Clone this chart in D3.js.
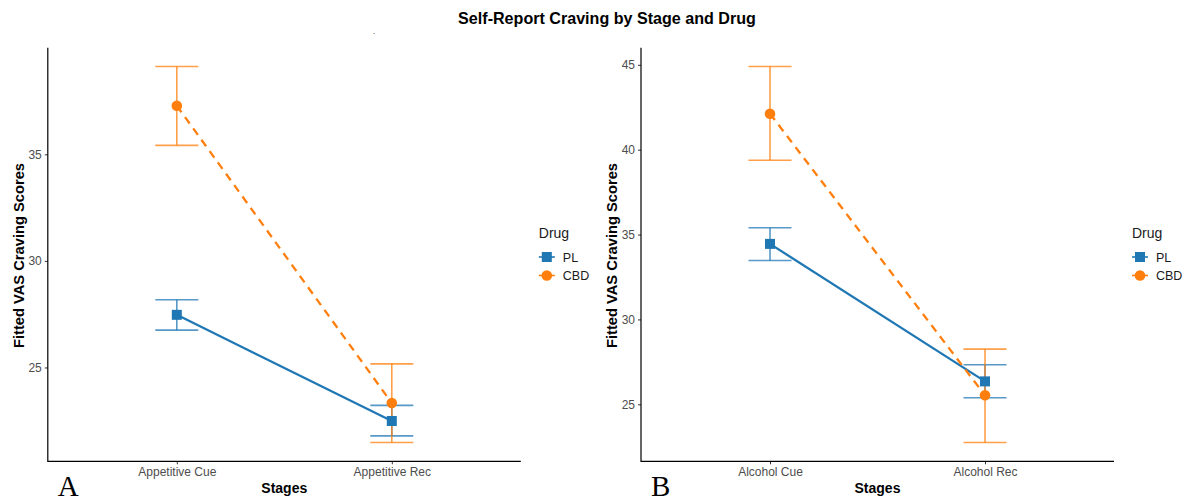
<!DOCTYPE html>
<html>
<head>
<meta charset="utf-8">
<script src="https://cdn.jsdelivr.net/npm/d3@7"></script>
<style>
  body { margin: 0; background: #fff; }
  svg { font-family: "Liberation Sans", Arial, sans-serif; }
</style>
</head>
<body>
<svg width="1189" height="501"></svg>
<script>
// values
const drugs = ["PL", "CBD"];
const stagesA = ["Appetitive Cue", "Appetitive Rec"];
const stagesB = ["Alcohol Cue", "Alcohol Rec"];

const meanA_PL = [27.47, 22.49];
const lowA_PL = [26.75, 21.79];
const highA_PL = [28.18, 23.22];
const meanA_CBD = [37.28, 23.33];
const lowA_CBD = [35.42, 21.48];
const highA_CBD = [39.12, 25.17];

const meanB_PL = [34.45, 26.35];
const lowB_PL = [33.47, 25.39];
const highB_PL = [35.40, 27.33];
const meanB_CBD = [42.12, 25.53];
const lowB_CBD = [39.38, 22.75];
const highB_CBD = [44.90, 28.25];

const ticksA = [25, 30, 35];
const ticksB = [25, 30, 35, 40, 45];

const colors = { PL: "#1f77b4", CBD: "#ff7f0e" };

const svg = d3.select("svg");

svg.append("text")
  .attr("x", 607).attr("y", 24)
  .attr("text-anchor", "middle")
  .attr("font-size", 16.1).attr("font-weight", "bold")
  .text("Self-Report Craving by Stage and Drug");

svg.append("text")
  .attr("x", 373).attr("y", 34)
  .attr("font-size", 8)
  .text(".");

function rows(stages, mean, low, high) {
  return stages.map((s, i) => ({ stage: s, mean: mean[i], low: low[i], high: high[i] }));
}

function panel(x0, stages, series, ticks, letter) {
  const left = x0, right = x0 + 473, top = 47.7, bottom = 461.3;
  const all = series.flatMap(s => s.rows.flatMap(r => [r.low, r.high]));
  const lo = d3.min(all), hi = d3.max(all), pad = (hi - lo) * 0.05;

  const y = d3.scaleLinear().domain([lo - pad, hi + pad]).range([bottom, top]);
  const x = d3.scalePoint().domain(stages).range([left, right]).padding(0.6);
  const halfCap = (x.step()) * 0.1;

  const g = svg.append("g");

  g.append("g")
    .attr("transform", `translate(${left},0)`)
    .call(d3.axisLeft(y).tickValues(ticks).tickSize(3).tickPadding(3))
    .call(a => a.select(".domain").remove())
    .call(a => a.selectAll("line").attr("stroke", "#333"))
    .call(a => a.selectAll("text").attr("fill", "#4d4d4d").attr("font-size", 12).attr("font-family", "Liberation Sans, Arial, sans-serif"));

  g.append("g")
    .attr("transform", `translate(0,${bottom})`)
    .call(d3.axisBottom(x).tickSize(3).tickPadding(3))
    .call(a => a.select(".domain").remove())
    .call(a => a.selectAll("line").attr("stroke", "#333"))
    .call(a => a.selectAll("text").attr("fill", "#4d4d4d").attr("font-size", 12).attr("font-family", "Liberation Sans, Arial, sans-serif"));

  g.append("path")
    .attr("d", `M${left},${top}V${bottom}H${right}`)
    .attr("fill", "none").attr("stroke", "#000").attr("stroke-width", 1.2);

  series.forEach(s => {
    const c = colors[s.name];
    s.rows.forEach(r => {
      const cx = x(r.stage);
      g.append("line").attr("x1", cx).attr("x2", cx).attr("y1", y(r.low)).attr("y2", y(r.high))
        .attr("stroke", c).attr("stroke-opacity", 0.75).attr("stroke-width", 1.6);
      [r.low, r.high].forEach(v => {
        g.append("line").attr("x1", cx - halfCap).attr("x2", cx + halfCap).attr("y1", y(v)).attr("y2", y(v))
          .attr("stroke", c).attr("stroke-opacity", 0.75).attr("stroke-width", 1.6);
      });
    });
    g.append("path")
      .datum(s.rows)
      .attr("d", d3.line().x(r => x(r.stage)).y(r => y(r.mean)))
      .attr("fill", "none").attr("stroke", c).attr("stroke-width", 2.3)
      .attr("stroke-dasharray", s.name === "CBD" ? "8,6" : null);
  });

  series.forEach(s => {
    const c = colors[s.name];
    s.rows.forEach(r => {
      if (s.name === "PL") {
        g.append("rect").attr("x", x(r.stage) - 5).attr("y", y(r.mean) - 5)
          .attr("width", 10).attr("height", 10).attr("fill", c);
      } else {
        g.append("circle").attr("cx", x(r.stage)).attr("cy", y(r.mean)).attr("r", 5.3).attr("fill", c);
      }
    });
  });

  g.append("text")
    .attr("transform", `translate(${left - 24},${(top + bottom) / 2 + 1}) rotate(-90)`)
    .attr("text-anchor", "middle")
    .attr("font-size", 14.7).attr("font-weight", "bold")
    .text("Fitted VAS Craving Scores");

  g.append("text")
    .attr("x", (left + right) / 2).attr("y", 493)
    .attr("text-anchor", "middle")
    .attr("font-size", 14).attr("font-weight", "bold")
    .text("Stages");

  g.append("text")
    .attr("x", left + 10).attr("y", 496)
    .attr("font-family", "Liberation Serif, Times New Roman, serif")
    .attr("font-size", 29)
    .text(letter);

  // legend
  const lx = right + 18;
  g.append("text").attr("x", lx).attr("y", 238).attr("font-size", 14).attr("fill", "#1a1a1a").text("Drug");
  drugs.forEach((d, i) => {
    const ky = 257 + i * 18.5;
    const kx = lx + 8;
    g.append("line").attr("x1", kx - 8).attr("x2", kx + 8).attr("y1", ky).attr("y2", ky)
      .attr("stroke", colors[d]).attr("stroke-width", 1.6);
    if (d === "PL") {
      g.append("rect").attr("x", kx - 5).attr("y", ky - 5).attr("width", 10).attr("height", 10).attr("fill", colors[d]);
    } else {
      g.append("circle").attr("cx", kx).attr("cy", ky).attr("r", 5.3).attr("fill", colors[d]);
    }
    g.append("text").attr("x", lx + 24).attr("y", ky + 4.5).attr("font-size", 12.5).attr("fill", "#1a1a1a").text(d);
  });
}

panel(47.8, stagesA, [
  { name: "PL", rows: rows(stagesA, meanA_PL, lowA_PL, highA_PL) },
  { name: "CBD", rows: rows(stagesA, meanA_CBD, lowA_CBD, highA_CBD) }
], ticksA, "A");

panel(641, stagesB, [
  { name: "PL", rows: rows(stagesB, meanB_PL, lowB_PL, highB_PL) },
  { name: "CBD", rows: rows(stagesB, meanB_CBD, lowB_CBD, highB_CBD) }
], ticksB, "B");
</script>
</body>
</html>
